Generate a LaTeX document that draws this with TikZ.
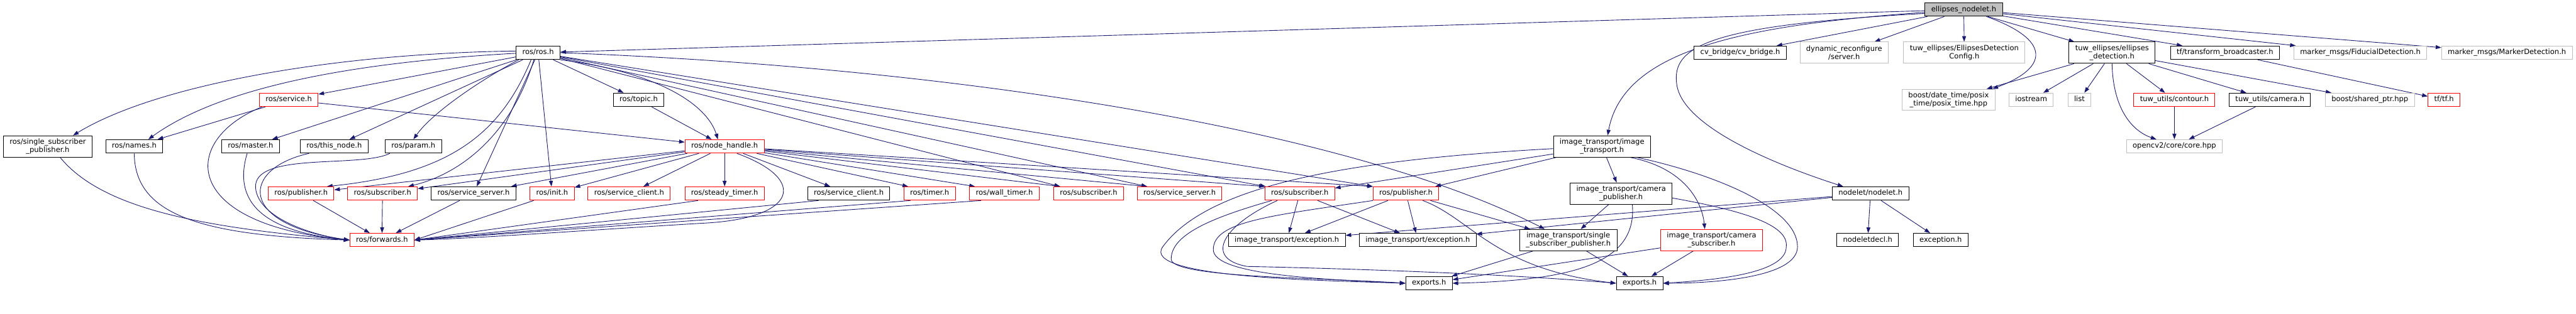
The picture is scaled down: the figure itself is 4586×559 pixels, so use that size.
\documentclass[tikz,border=0pt]{standalone}
\usepackage{fontspec}
\setmainfont{DejaVu Sans}
\usetikzlibrary{arrows.meta, backgrounds}
\definecolor{MidnightBlue}{RGB}{25,25,112}
\definecolor{LightGrey}{RGB}{191,191,191}
\definecolor{DoxRed}{RGB}{255,0,0}

\begin{document}
\begin{tikzpicture}[x=1pt, y=-1pt,
    hdrbase/.style={draw=black, line width=1.1pt, fill=white, inner xsep=11pt, inner ysep=2pt,
      align=center, font=\fontsize{12.9pt}{14.5pt}\selectfont},
    hdr/.style={hdrbase, minimum height=24pt, text height=9.6pt, text depth=3.2pt},
    hdrtwo/.style={hdrbase, minimum height=38pt},
    trunc/.style={draw=DoxRed},
    ext/.style={draw=LightGrey},
    topfile/.style={fill=LightGrey},
    incl/.style={MidnightBlue, line width=1pt, -{Triangle[length=10pt,width=7pt]}}]
  \useasboundingbox (0,0) rectangle (4586,559);

  % 第0层
  \node[hdr, topfile] (ellipses) at (3496,17) {ellipses\_nodelet.h};

  % 第1层
  \node[hdr] (rosros) at (958,94) {ros/ros.h};
  \node[hdr] (cvbridge) at (3098,94) {cv\_bridge/cv\_bridge.h};
  \node[hdrtwo, ext] (dynreconf) at (3283,94) {dynamic\_reconfigure\\/server.h};
  \node[hdrtwo, ext] (edconfig) at (3497,94) {tuw\_ellipses/EllipsesDetection\\Config.h};
  \node[hdrtwo] (ellipsesdet) at (3760,94) {tuw\_ellipses/ellipses\\\_detection.h};
  \node[hdr] (tfbroad) at (3961,94) {tf/transform\_broadcaster.h};
  \node[hdr, ext] (fiducial) at (4202,94) {marker\_msgs/FiducialDetection.h};
  \node[hdr, ext] (markerdet) at (4463,94) {marker\_msgs/MarkerDetection.h};

  % 第2层
  \node[hdr, trunc] (rosservice) at (514,178) {ros/service.h};
  \node[hdr] (rostopic) at (1137,178) {ros/topic.h};
  \node[hdrtwo, ext] (posix) at (3469,178) {boost/date\_time/posix\\\_time/posix\_time.hpp};
  \node[hdr, ext] (iostream) at (3616,178) {iostream};
  \node[hdr, ext] (stdlist) at (3702,178) {list};
  \node[hdr, trunc] (contour) at (3871,178) {tuw\_utils/contour.h};
  \node[hdr] (camera) at (4041,178) {tuw\_utils/camera.h};
  \node[hdr, ext] (sharedptr) at (4219,178) {boost/shared\_ptr.hpp};
  \node[hdr, trunc] (tftf) at (4351,178) {tf/tf.h};

  % 第3层
  \node[hdrtwo] (singlesub) at (85,261) {ros/single\_subscriber\\\_publisher.h};
  \node[hdr] (names) at (239,261) {ros/names.h};
  \node[hdr] (master) at (446,261) {ros/master.h};
  \node[hdr] (thisnode) at (595,261) {ros/this\_node.h};
  \node[hdr] (param) at (736,261) {ros/param.h};
  \node[hdr, trunc] (nodehandle) at (1290,261) {ros/node\_handle.h};
  \node[hdrtwo] (imagetrans) at (2852,261) {image\_transport/image\\\_transport.h};
  \node[hdr, ext] (opencv) at (3871,261) {opencv2/core/core.hpp};

  % 第4层
  \node[hdr, trunc] (pubA) at (536,345) {ros/publisher.h};
  \node[hdr, trunc] (subA) at (681,345) {ros/subscriber.h};
  \node[hdr] (srvsrvA) at (843,345) {ros/service\_server.h};
  \node[hdr, trunc] (init) at (983,345) {ros/init.h};
  \node[hdr, trunc] (srvcliA) at (1120,345) {ros/service\_client.h};
  \node[hdr, trunc] (steady) at (1290,345) {ros/steady\_timer.h};
  \node[hdr] (srvcliB) at (1511,345) {ros/service\_client.h};
  \node[hdr, trunc] (timer) at (1655,345) {ros/timer.h};
  \node[hdr, trunc] (walltimer) at (1788,345) {ros/wall\_timer.h};
  \node[hdr, trunc] (subB) at (1938,345) {ros/subscriber.h};
  \node[hdr, trunc] (srvsrvB) at (2100,345) {ros/service\_server.h};
  \node[hdr, trunc] (subC) at (2314,345) {ros/subscriber.h};
  \node[hdr, trunc] (pubB) at (2503,345) {ros/publisher.h};
  \node[hdrtwo] (campub) at (2886,345) {image\_transport/camera\\\_publisher.h};
  \node[hdr] (nodelet) at (3330,345) {nodelet/nodelet.h};

  % 第5层
  \node[hdr, trunc] (forwards) at (680,428) {ros/forwards.h};
  \node[hdr] (excA) at (2291,428) {image\_transport/exception.h};
  \node[hdr] (excB) at (2524,428) {image\_transport/exception.h};
  \node[hdrtwo] (itsingle) at (2792,428) {image\_transport/single\\\_subscriber\_publisher.h};
  \node[hdrtwo, trunc] (camsub) at (3047,428) {image\_transport/camera\\\_subscriber.h};
  \node[hdr] (nodeletdecl) at (3325,428) {nodeletdecl.h};
  \node[hdr] (exception) at (3455,428) {exception.h};

  % 第6层
  \node[hdr] (exportsA) at (2544,505) {exports.h};
  \node[hdr] (exportsB) at (2919,505) {exports.h};

  \begin{scope}[on background layer]
    % ellipses_nodelet.h
    \draw[incl] (ellipses) -- (rosros);
    \draw[incl] (ellipses) -- (cvbridge);
    \draw[incl] (ellipses) -- (dynreconf);
    \draw[incl] (ellipses) -- (edconfig);
    \draw[incl] (ellipses) -- (ellipsesdet);
    \draw[incl] (ellipses) -- (tfbroad);
    \draw[incl] (ellipses) -- (fiducial);
    \draw[incl] (ellipses) -- (markerdet);
    \draw[incl] ([xshift=-29pt]ellipses.south east) .. controls (3650,70) and (3650,120) .. ([xshift=-5pt]posix.north east);
    \draw[incl] ([yshift=-5pt]ellipses.west) .. controls (3100,45) and (2890,90) .. ([xshift=10pt]imagetrans.north);
    \draw[incl] ([yshift=-7pt]ellipses.west) .. controls (3050,45) and (2975,80) .. (2985,150)
      .. controls (2995,230) and (3180,300) .. ([xshift=20pt]nodelet.north west);

    % tuw_ellipses/ellipses_detection.h
    \draw[incl] (ellipsesdet) -- (posix);
    \draw[incl] (ellipsesdet) -- (iostream);
    \draw[incl] (ellipsesdet) -- (stdlist);
    \draw[incl] (ellipsesdet) -- (contour);
    \draw[incl] (ellipsesdet) -- (camera);
    \draw[incl] (ellipsesdet) -- (sharedptr);
    \draw[incl] (ellipsesdet.south) .. controls (3762,200) and (3800,235) .. ([xshift=-32pt]opencv.north);
    \draw[incl] (contour) -- (opencv);
    \draw[incl] (camera) -- (opencv);
    \draw[incl] (tfbroad) -- (tftf);

    % ros/ros.h
    \draw[incl] ([yshift=3pt]rosros.west) .. controls (600,95) and (280,150) .. ([xshift=45pt]singlesub.north);
    \draw[incl] ([yshift=-1pt]rosros.west) .. controls (650,110) and (400,150) .. ([xshift=25pt]names.north);
    \draw[incl] (rosros) -- (rosservice);
    \draw[incl] (rosros) -- (master);
    \draw[incl] (rosros) -- (thisnode);
    \draw[incl] ([xshift=5pt]rosros.south west) .. controls (860,140) and (770,200) .. (param.north);
    \draw[incl] ([xshift=27pt]rosros.south west) .. controls (890,240) and (800,310) .. ([xshift=-13pt]pubA.north east);
    \draw[incl] ([xshift=32pt]rosros.south west) .. controls (910,240) and (820,310) .. ([xshift=-17pt]subA.north east);
    \draw[incl] (rosros) -- (srvsrvA);
    \draw[incl] (rosros) -- (init);
    \draw[incl] (rosros) -- (rostopic);
    \draw[incl] (rosros.south east) .. controls (1180,130) and (1260,190) .. ([xshift=-12pt]nodehandle.north);
    \draw[incl] (rosros) -- ([xshift=12pt]subB.north west);
    \draw[incl] (rosros) -- ([xshift=18pt]srvsrvB.north west);
    \draw[incl] (rosros) -- ([xshift=2pt]subC.north west);
    \draw[incl] (rosros) -- (pubB.north west);
    \draw[incl] (rosros.east) .. controls (1700,120) and (2400,230) .. ([xshift=-42pt]itsingle.north);

    \draw[incl] (rosservice) -- (names);
    \draw[incl] (rosservice) -- (nodehandle);
    \draw[incl] (rostopic) -- (nodehandle);

    % ros/node_handle.h
    \draw[incl] (nodehandle) -- (pubA);
    \draw[incl] (nodehandle) -- (subA);
    \draw[incl] (nodehandle) -- (srvsrvA);
    \draw[incl] (nodehandle) -- (init);
    \draw[incl] (nodehandle) -- (srvcliA);
    \draw[incl] (nodehandle) -- (steady);
    \draw[incl] (nodehandle) -- (srvcliB);
    \draw[incl] (nodehandle) -- ([xshift=8pt]timer.north west);
    \draw[incl] (nodehandle) -- ([xshift=10pt]walltimer.north west);
    \draw[incl] (nodehandle) -- ([xshift=12pt]subB.north west);
    \draw[incl] (nodehandle) -- ([xshift=18pt]srvsrvB.north west);
    \draw[incl] (nodehandle) -- (subC.north west);
    \draw[incl] (nodehandle) -- (pubB.north west);

    % 指向 ros/forwards.h
    \draw[incl] ([xshift=22pt]singlesub.south) .. controls (180,370) and (350,405) .. (forwards.west);
    \draw[incl] (names.south) .. controls (240,380) and (350,420) .. (forwards.west);
    \draw[incl] ([xshift=5pt]rosservice.south west) .. controls (320,250) and (320,400) .. (forwards.west);
    \draw[incl] ([xshift=-6pt]master.south) .. controls (420,340) and (440,410) .. (forwards.west);
    \draw[incl] ([xshift=-45pt]thisnode.south) .. controls (430,300) and (420,400) .. (forwards.west);
    \draw[incl] ([xshift=-42pt]param.south) .. controls (640,300) and (450,270) .. (455,335)
      .. controls (460,390) and (560,420) .. (forwards.west);
    \draw[incl] (pubA) -- (forwards);
    \draw[incl] (subA) -- (forwards);
    \draw[incl] (srvsrvA) -- (forwards);
    \draw[incl] ([xshift=7pt]init.south west) -- (forwards.east);
    \draw[incl] ([xshift=24pt]steady.south west) -- (forwards.east);
    \draw[incl] ([xshift=22pt]nodehandle.south) .. controls (1440,320) and (1420,390) .. (1250,398)
      .. controls (1050,410) and (850,425) .. (forwards.east);
    \draw[incl] ([xshift=20pt]srvcliB.south west) -- (forwards.east);
    \draw[incl] ([xshift=12pt]timer.south west) -- (forwards.east);
    \draw[incl] ([xshift=21pt]walltimer.south west) -- (forwards.east);

    % image_transport/image_transport.h
    \draw[incl] (imagetrans) -- (subC);
    \draw[incl] (imagetrans) -- (pubB);
    \draw[incl] (imagetrans) -- (campub);
    \draw[incl] ([xshift=50pt]imagetrans.south) .. controls (3000,300) and (3030,360) .. ([xshift=-12pt]camsub.north);
    \draw[incl] ([yshift=-4pt]imagetrans.west) .. controls (2400,285) and (2150,330) .. (2070,440)
      .. controls (2030,495) and (2350,500) .. (exportsA.west);
    \draw[incl] ([xshift=62pt]imagetrans.south) .. controls (3050,310) and (3200,370) .. (3200,440)
      .. controls (3200,495) and (3050,505) .. (exportsB.east);

    % ros/subscriber.h 与 ros/publisher.h
    \draw[incl] (subC) -- (excA);
    \draw[incl] (subC) -- (excB);
    \draw[incl] ([xshift=-50pt]subC.south) .. controls (2150,390) and (2085,420) .. (2085,462)
      .. controls (2085,495) and (2350,495) .. (exportsA.west);
    \draw[incl] ([xshift=-40pt]subC.south) .. controls (2180,400) and (2140,460) .. (2220,475)
      .. controls (2450,480) and (2700,490) .. (exportsB.west);
    \draw[incl] (pubB) -- (excA);
    \draw[incl] (pubB) -- (excB);
    \draw[incl] (pubB) -- (itsingle);
    \draw[incl] (pubB.south west) .. controls (2260,385) and (2160,395) .. (2160,445)
      .. controls (2160,490) and (2350,498) .. (exportsA.west);
    \draw[incl] ([xshift=30pt]pubB.south) .. controls (2620,390) and (2660,480) .. (exportsB.west);

    % image_transport 其余
    \draw[incl] (campub) -- (itsingle);
    \draw[incl] ([xshift=20pt]campub.south) .. controls (2915,470) and (2800,500) .. (exportsA.east);
    \draw[incl] ([yshift=-8pt]campub.east) .. controls (3100,375) and (3185,400) .. (3180,440)
      .. controls (3180,490) and (3040,500) .. (exportsB.east);
    \draw[incl] (itsingle) -- (exportsA);
    \draw[incl] (itsingle) -- (exportsB);
    \draw[incl] (camsub) -- (exportsA);
    \draw[incl] (camsub) -- (exportsB);

    % nodelet/nodelet.h
    \draw[incl] (nodelet) -- (excA);
    \draw[incl] (nodelet) -- (excB);
    \draw[incl] (nodelet) -- (nodeletdecl);
    \draw[incl] (nodelet) -- (exception);
  \end{scope}
\end{tikzpicture}
\end{document}
